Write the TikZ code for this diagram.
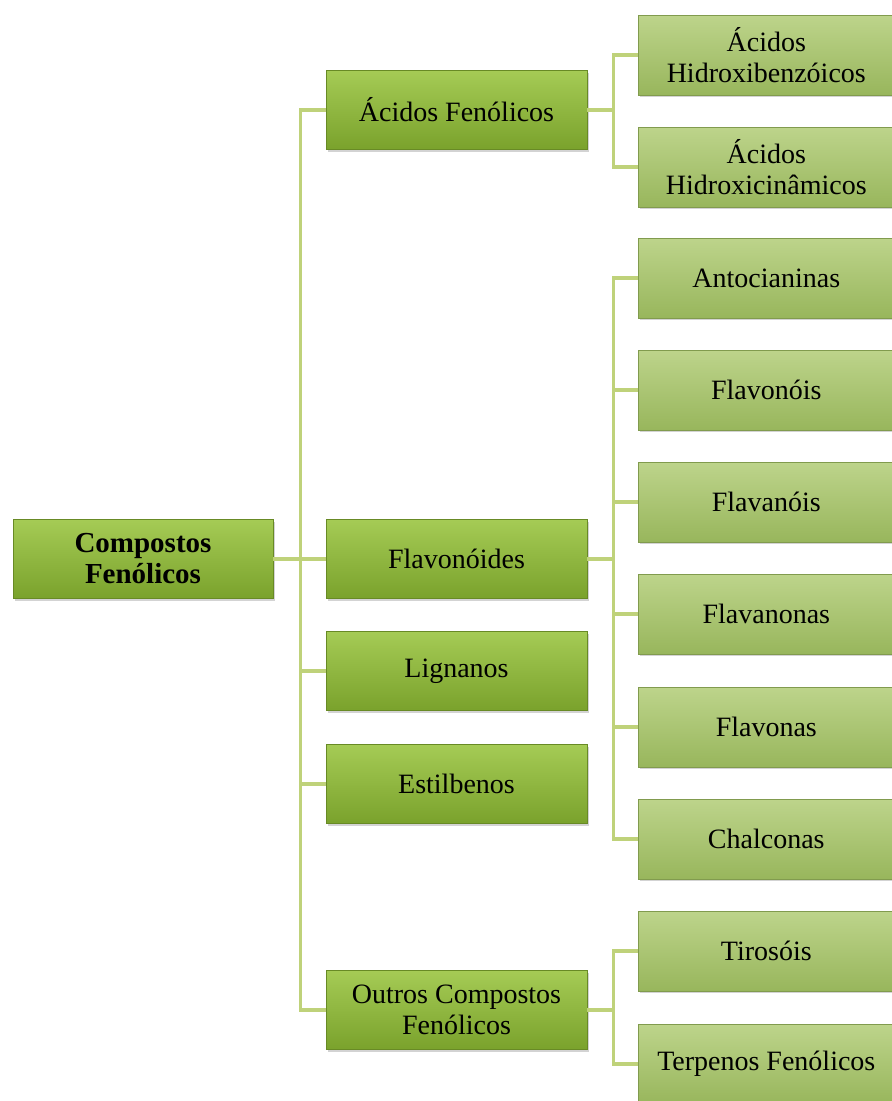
\documentclass[tikz,border=0pt]{standalone}
\usepackage{fontspec}
\setmainfont{Liberation Serif}
\usetikzlibrary{shadows}
\definecolor{linec}{HTML}{BFD27A}
\definecolor{lonetop}{HTML}{A5CB55}
\definecolor{lonebot}{HTML}{7AA22C}
\definecolor{ltwotop}{HTML}{BDD48B}
\definecolor{ltwobot}{HTML}{98B65C}
\tikzset{
  conn/.style={draw=linec, line width=3.5pt},
  boxfont/.style={font=\fontsize{28}{31}\selectfont},
  lone/.style={rectangle, minimum width=261pt, minimum height=79pt, top color=lonetop, bottom color=lonebot, draw=lonebot!85!black, line width=0.6pt, drop shadow={opacity=0.35, shadow xshift=2pt, shadow yshift=-2pt}, align=center, boxfont, inner sep=0pt},
  ltwo/.style={rectangle, minimum width=256pt, minimum height=80pt, top color=ltwotop, bottom color=ltwobot, draw=ltwobot!85!black, line width=0.6pt, drop shadow={opacity=0.35, shadow xshift=2pt, shadow yshift=-2pt}, align=center, boxfont, inner sep=0pt, anchor=west},
}
\begin{document}
\begin{tikzpicture}[x=1pt,y=1pt]
\useasboundingbox (0,0) rectangle (892,-1101);
% level 0
\node[lone, minimum width=260pt, font=\fontsize{29}{31}\selectfont\bfseries] (root) at (143,-559) {Compostos\\Fenólicos};
% level 1
\node[lone] (af) at (456.5,-110) {Ácidos Fenólicos};
\node[lone] (fl) at (456.5,-559) {Flavonóides};
\node[lone] (li) at (456.5,-671) {Lignanos};
\node[lone] (es) at (456.5,-784) {Estilbenos};
\node[lone] (ou) at (456.5,-1010) {Outros Compostos\\Fenólicos};
% level 2
\node[ltwo] (hb) at (638,-55) {Ácidos\\Hidroxibenzóicos};
\node[ltwo] (hc) at (638,-167) {Ácidos\\Hidroxicinâmicos};
\node[ltwo] (an) at (638,-278) {Antocianinas};
\node[ltwo] (fo) at (638,-390) {Flavonóis};
\node[ltwo] (fa) at (638,-502) {Flavanóis};
\node[ltwo] (fn) at (638,-614) {Flavanonas};
\node[ltwo] (fv) at (638,-727) {Flavonas};
\node[ltwo] (ch) at (638,-839) {Chalconas};
\node[ltwo] (ti) at (638,-951) {Tirosóis};
\node[ltwo] (te) at (638,-1064) {Terpenos Fenólicos};
% connectors
\foreach \t in {af,fl,li,es,ou}{\draw[conn] (root.east) -- ++(27,0) |- (\t.west);}
\foreach \t in {hb,hc}{\draw[conn] (af.east) -- ++(26,0) |- (\t.west);}
\foreach \t in {an,fo,fa,fn,fv,ch}{\draw[conn] (fl.east) -- ++(26,0) |- (\t.west);}
\foreach \t in {ti,te}{\draw[conn] (ou.east) -- ++(26,0) |- (\t.west);}
\end{tikzpicture}
\end{document}
